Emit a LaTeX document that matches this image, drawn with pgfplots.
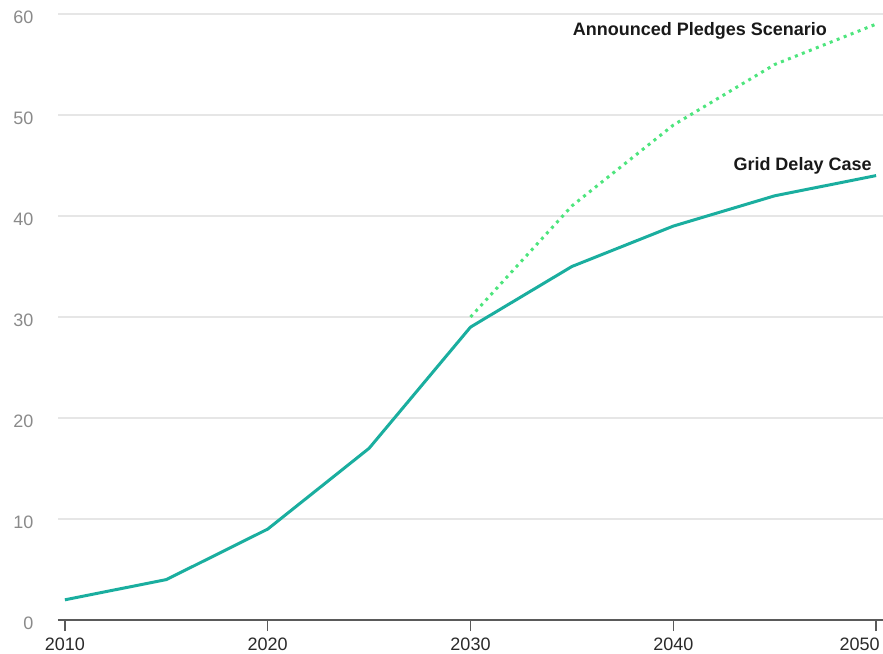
\documentclass[border=0pt]{standalone}
\usepackage{pgfplots}
\pgfplotsset{compat=1.18}
\usepackage{fontspec}
\setmainfont{Liberation Sans}
\definecolor{gridteal}{HTML}{1AAE9F}
\definecolor{apsgreen}{HTML}{4DE57D}
\definecolor{gridgray}{HTML}{E6E6E6}
\definecolor{ylabgray}{HTML}{8A8A8A}
\definecolor{xlabdark}{HTML}{2A2A2A}
\definecolor{axisdark}{HTML}{5A5A5A}

\pgfplotstableread{
year val
2010 2
2015 4
2020 9
2025 17
2030 29
2035 35
2040 39
2045 42
2050 44
}\griddelay

\pgfplotstableread{
year val
2030 30
2035 41
2040 49
2045 55
2050 59
}\pledges

\begin{document}
\begin{tikzpicture}
\path[use as bounding box] (-58pt,-33pt) rectangle (825pt,620pt);
\begin{axis}[
  at={(0,0)}, anchor=south west,
  scale only axis,
  width=825pt, height=606pt,
  xmin=2009.66, xmax=2050.34,
  ymin=0, ymax=60,
  xtick={2010,2020,2030,2040},
  extra x ticks={2050},
  extra x tick style={
    xticklabel style={anchor=north east, xshift=7pt},
    xtick style={axisdark, line width=1.5pt},
  },
  ytick={0,10,20,30,40,50,60},
  xticklabel style={/pgf/number format/1000 sep={}, text=xlabdark, font=\fontsize{18}{21}\selectfont, yshift=-3pt},
  yticklabel style={text=ylabgray, font=\fontsize{18}{21}\selectfont, xshift=-10pt, yshift=-3pt},
  /pgf/number format/assume math mode=true,
  axis line style={draw=none},
  ymajorgrids,
  grid style={gridgray, line width=1.3pt},
  major tick length=11pt,
  xtick style={axisdark, line width=1.5pt},
  ytick style={draw=none},
  xtick pos=bottom, ytick pos=left,
  tick align=outside,
  clip=false,
  every axis plot/.append style={line join=round},
]
% baseline at zero drawn darker
\draw[axisdark, line width=1.8pt] (axis cs:2009.66,0) -- (axis cs:2050.34,0);
\addplot[apsgreen, line width=3pt, dash pattern=on 3pt off 4.5pt] table[x=year,y=val] {\pledges};
\addplot[gridteal, line width=3pt] table[x=year,y=val] {\griddelay};
\node[anchor=east, font=\bfseries\fontsize{18}{21}\selectfont, text=black!90] at (axis cs:2047.75,58.3) {Announced Pledges Scenario};
\node[anchor=east, font=\bfseries\fontsize{18}{21}\selectfont, text=black!90] at (axis cs:2049.95,45.0) {Grid Delay Case};
\end{axis}
\end{tikzpicture}
\end{document}
